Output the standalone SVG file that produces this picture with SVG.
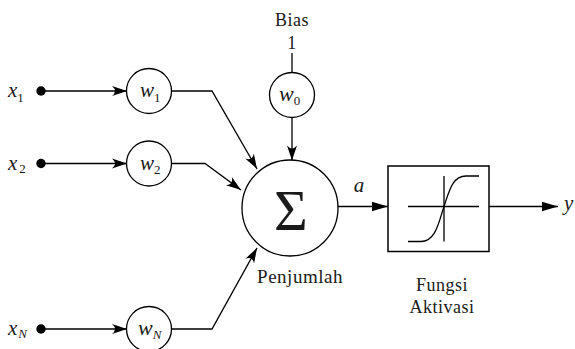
<svg xmlns="http://www.w3.org/2000/svg" width="575" height="349" viewBox="0 0 575 349">
<style>
.ln{fill:none;stroke:#000;stroke-width:1.3}
.nd{fill:#fff;stroke:#000;stroke-width:1.3}
text{font-family:'Liberation Serif','Times New Roman',serif;fill:#1a1a1a}
.t{font-size:18px;letter-spacing:0.5px}
.i{font-style:italic;font-size:21px}
.s{font-size:13px;font-style:normal}
.si{font-size:13px;font-style:italic}
</style>
<defs>
<marker id="barb" viewBox="-16 -6 17 12" refX="0" refY="0" markerWidth="17" markerHeight="12" markerUnits="userSpaceOnUse" orient="auto">
<path d="M0,0 L-15,-5 Q-9,0 -15,5 Z" fill="#000"/>
</marker>
<marker id="tri" viewBox="-17 -6 18 12" refX="0" refY="0" markerWidth="18" markerHeight="12" markerUnits="userSpaceOnUse" orient="auto">
<path d="M0,0 L-16,-4.8 L-16,4.8 Z" fill="#000"/>
</marker>
</defs>
<g id="connectors">
<path class="ln" d="M41,91 H127" marker-end="url(#barb)"/>
<path class="ln" d="M41,163.5 H127" marker-end="url(#barb)"/>
<path class="ln" d="M41,329 H127" marker-end="url(#barb)"/>
<path class="ln" d="M171.5,91 H212 L257,169" marker-end="url(#barb)"/>
<path class="ln" d="M171.5,163.5 H205 L241,190" marker-end="url(#barb)"/>
<path class="ln" d="M171.5,329 H212 L257,248" marker-end="url(#barb)"/>
<path class="ln" d="M292,53 V72.5"/>
<path class="ln" d="M292,117.5 V160.5" marker-end="url(#barb)"/>
<path class="ln" d="M338,206.5 H388" marker-end="url(#tri)"/>
<path class="ln" d="M489,206.5 H558" marker-end="url(#tri)"/>
</g>
<g id="x1"><circle cx="41" cy="91" r="4.7" fill="#000"/><text class="i" x="8" y="97">x<tspan class="s" dy="5">1</tspan></text></g>
<g id="x2"><circle cx="41" cy="163.5" r="4.7" fill="#000"/><text class="i" x="8" y="170">x<tspan class="s" dx="2" dy="3">2</tspan></text></g>
<g id="xN"><circle cx="41" cy="329" r="4.7" fill="#000"/><text class="i" x="8" y="335">x<tspan class="si" dx="1" dy="3">N</tspan></text></g>
<g id="w1"><circle class="nd" cx="149" cy="91" r="22.5"/><text class="i" x="140" y="97">w<tspan class="s" dy="5">1</tspan></text></g>
<g id="w2"><circle class="nd" cx="149" cy="163.5" r="22.5"/><text class="i" x="140" y="170">w<tspan class="s" dy="4">2</tspan></text></g>
<g id="wN"><circle class="nd" cx="149" cy="329" r="22.5"/><text class="i" x="138" y="335" style="font-size:22px">w<tspan class="si" dy="4">N</tspan></text></g>
<g id="bias"><text class="t" x="292" y="26" text-anchor="middle">Bias</text><text class="t" x="292" y="49" text-anchor="middle">1</text></g>
<g id="w0"><circle class="nd" cx="292" cy="95" r="22.5"/><text class="i" x="279" y="101" style="font-size:22px">w<tspan class="s" dy="4">0</tspan></text></g>
<g id="sum"><circle class="nd" cx="290" cy="208" r="48"/><text x="291" y="230" text-anchor="middle" style="font-size:58px">Σ</text><text class="t" x="300" y="283" text-anchor="middle" style="font-size:19px">Penjumlah</text></g>
<text class="i" x="359" y="192" text-anchor="middle">a</text>
<g id="aktivasi">
<rect x="388" y="166" width="101" height="85.5" fill="#fff" stroke="#000" stroke-width="1.5"/>
<path class="ln" d="M408,206.5 H479 M444,176 V241.5"/>
<path class="ln" d="M408,241.5 L421,241.5 C436,241.5 439,221 444,206.5 C449,192 452,176 466,176 L479,176"/>
<text class="t" x="442" y="291" text-anchor="middle">Fungsi</text>
<text class="t" x="442" y="313" text-anchor="middle">Aktivasi</text>
</g>
<text class="i" x="564" y="210">y</text>
</svg>
